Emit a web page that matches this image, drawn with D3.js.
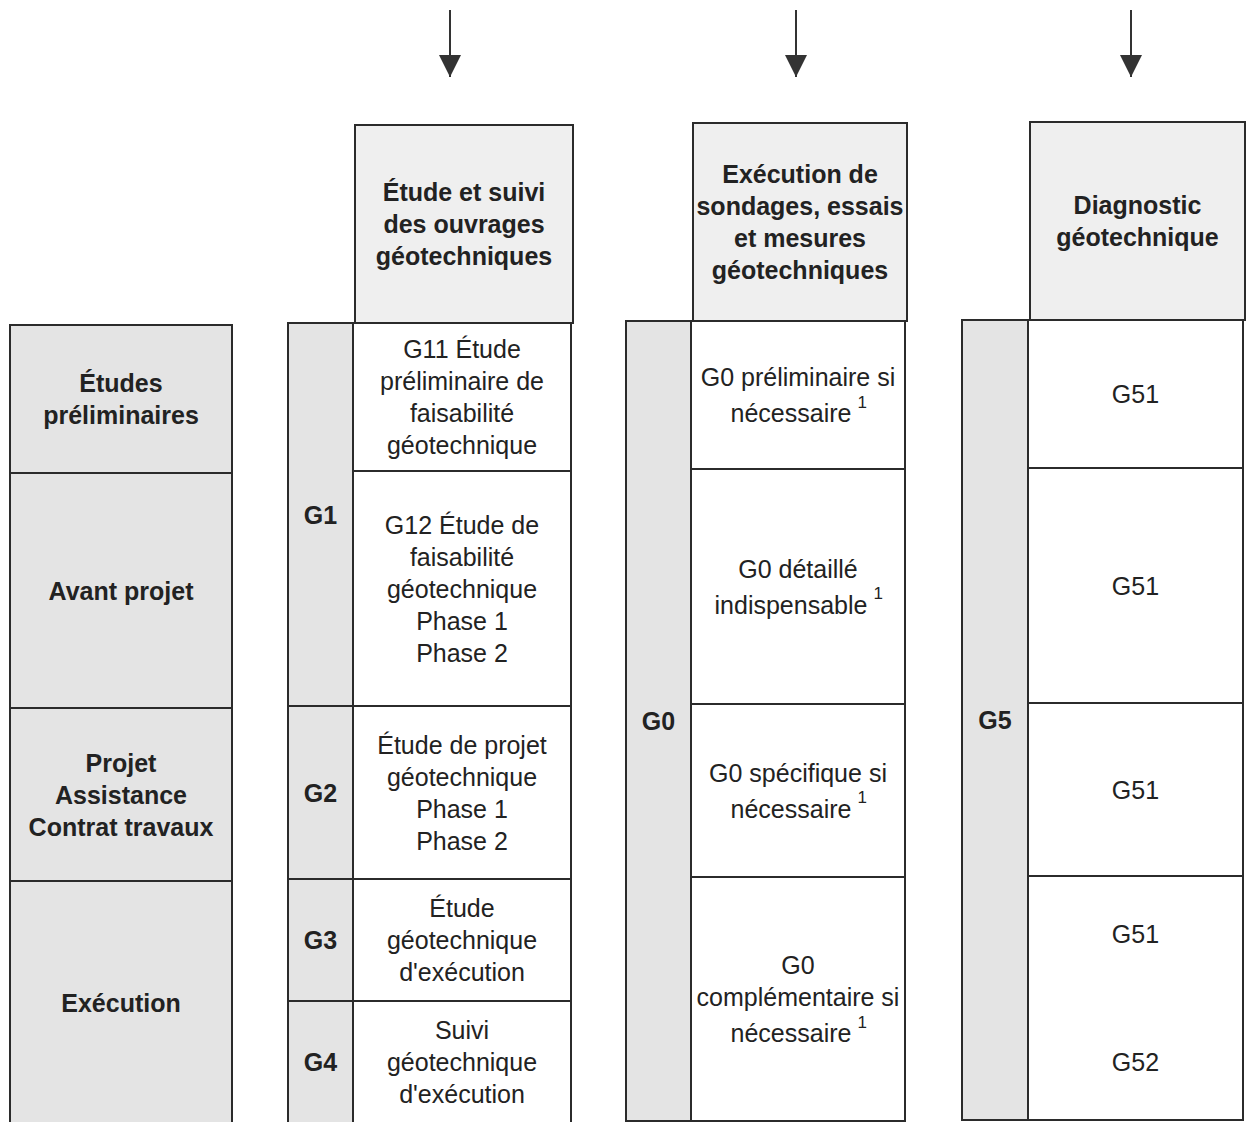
<!DOCTYPE html>
<html><head><meta charset="utf-8">
<script src="https://cdn.jsdelivr.net/npm/d3@7"></script>
<style>body{margin:0;background:#fff}svg{display:block}text{font-family:"Liberation Sans",Arial,sans-serif;fill:#222}</style>
</head><body>
<script>
// ---- data ----
const stageLabels = [["Études","préliminaires"],["Avant projet"],["Projet","Assistance","Contrat travaux"],["Exécution"]];
const stageBounds = [0,1,2,3,4];
const columnHeaders = [
  ["Étude et suivi","des ouvrages","géotechniques"],
  ["Exécution de","sondages, essais","et mesures","géotechniques"],
  ["Diagnostic","géotechnique"]
];
const missionGroups = [
  [{code:"G1",from:0,to:2},{code:"G2",from:2,to:3},{code:"G3",from:3,to:3.5},{code:"G4",from:3.5,to:4}],
  [{code:"G0",from:0,to:4}],
  [{code:"G5",from:0,to:4}]
];
const missionCells = [
  [
    {from:0,to:1,lines:["G11 Étude","préliminaire de","faisabilité","géotechnique"]},
    {from:1,to:2,lines:["G12 Étude de","faisabilité","géotechnique","Phase 1","Phase 2"]},
    {from:2,to:3,lines:["Étude de projet","géotechnique","Phase 1","Phase 2"]},
    {from:3,to:3.5,lines:["Étude","géotechnique","d'exécution"]},
    {from:3.5,to:4,lines:["Suivi","géotechnique","d'exécution"]}
  ],
  [
    {from:0,to:1,lines:["G0 préliminaire si","nécessaire"],note:"1"},
    {from:1,to:2,lines:["G0 détaillé","indispensable"],note:"1"},
    {from:2,to:3,lines:["G0 spécifique si","nécessaire"],note:"1"},
    {from:3,to:4,lines:["G0","complémentaire si","nécessaire"],note:"1"}
  ],
  [
    {from:0,to:1,lines:["G51"]},
    {from:1,to:2,lines:["G51"]},
    {from:2,to:3,lines:["G51"]},
    {from:3,to:4,lines:["G51","","","","G52"]}
  ]
];

// ---- layout ----
const W=1249,H=1122;
const svg=d3.select("body").append("svg").attr("width",W).attr("height",H);
const stroke="#2b2b2b", shade="#e4e4e4", shadeLight="#efefef";
const yBase=d3.scaleLinear().domain(stageBounds).range([325,473,708,881,1125]);
const cols=[
  {strip:288,div:353,right:571,dy:-2,headTop:125,arrowX:450},
  {strip:626,div:691,right:905,dy:-4,headTop:123,arrowX:796},
  {strip:962,div:1028,right:1243,dy:-5,headTop:122,arrowX:1131}
];
const lh=32, fs=25;

function multiline(g,x,cy,lines,opts={}){
  const n=lines.length;
  const t=g.append("text").attr("x",x).attr("text-anchor","middle")
    .style("font-size",fs+"px").style("font-weight",opts.bold?"bold":"normal");
  const extra=opts.note?4:0;
  const total=(n-1)*lh+extra;
  const shift=opts.note?7:0;
  lines.forEach((l,i)=>{
    const yy=cy-total/2+i*lh+(opts.note&&i===n-1?extra:0);
    const xx=(opts.note&&i===n-1)?x-shift:x;
    t.append("tspan").attr("x",xx).attr("y",yy).attr("dominant-baseline","central").text(l);
  });
  if(opts.note){
    const last=t.selectAll("tspan").nodes()[n-1];
    const bb=last.getComputedTextLength();
    const yy=cy-total/2+(n-1)*lh+extra;
    g.append("text").attr("x",x-shift+bb/2+6).attr("y",yy-11).attr("dominant-baseline","central")
      .style("font-size","17px").text(opts.note);
  }
}

svg.append("defs").append("marker").attr("id","ah").attr("viewBox","0 0 10 10")
  .attr("refX",10).attr("refY",5).attr("markerWidth",22).attr("markerHeight",22)
  .attr("markerUnits","userSpaceOnUse").attr("orient","auto")
  .append("path").attr("d","M0,0L10,5L0,10Z").attr("fill","#333");

const left=svg.append("g");
stageLabels.forEach((lab,i)=>{
  const y0=yBase(stageBounds[i]), y1=yBase(stageBounds[i+1]);
  left.append("rect").attr("x",10).attr("y",y0).attr("width",222).attr("height",y1-y0)
    .attr("fill",shade).attr("stroke",stroke).attr("stroke-width",2);
  multiline(left,121,(y0+y1)/2,lab,{bold:true});
});

cols.forEach((c,ci)=>{
  const g=svg.append("g");
  const y=v=>yBase(v)+c.dy;
  g.append("line").attr("x1",c.arrowX).attr("x2",c.arrowX).attr("y1",10).attr("y2",77)
    .attr("stroke","#333").attr("stroke-width",2).attr("marker-end","url(#ah)");
  const hb=y(0);
  g.append("rect").attr("x",c.div+2).attr("y",c.headTop).attr("width",c.right-c.div).attr("height",hb-c.headTop)
    .attr("fill",shadeLight).attr("stroke",stroke).attr("stroke-width",2);
  multiline(g,(c.div+2+c.right+2)/2,(c.headTop+hb)/2,columnHeaders[ci],{bold:true});
  missionGroups[ci].forEach(m=>{
    g.append("rect").attr("x",c.strip).attr("y",y(m.from)).attr("width",c.div-c.strip).attr("height",y(m.to)-y(m.from))
      .attr("fill",shade).attr("stroke",stroke).attr("stroke-width",2);
    g.append("text").attr("x",(c.strip+c.div)/2).attr("y",(y(m.from)+y(m.to))/2).attr("text-anchor","middle")
      .attr("dominant-baseline","central").style("font-size",fs+"px").style("font-weight","bold").text(m.code);
  });
  missionCells[ci].forEach(cell=>{
    g.append("rect").attr("x",c.div).attr("y",y(cell.from)).attr("width",c.right-c.div).attr("height",y(cell.to)-y(cell.from))
      .attr("fill","#fff").attr("stroke",stroke).attr("stroke-width",2);
    multiline(g,(c.div+c.right)/2,(y(cell.from)+y(cell.to))/2,cell.lines,{note:cell.note});
  });
});
</script>
</body></html>
